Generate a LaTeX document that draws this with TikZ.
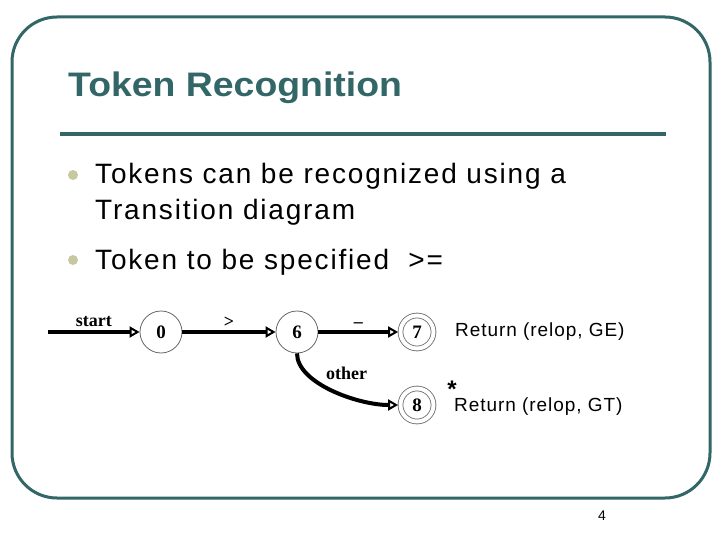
\documentclass[tikz,border=0pt]{standalone}
\usepackage{fontspec}
\setmainfont{Liberation Sans}
\newfontfamily\statefont{Liberation Serif}
\newfontfamily\titlefont[FakeStretch=1.1]{Liberation Sans}
\newfontfamily\bodyfont[LetterSpace=6.5]{Liberation Sans}
\newfontfamily\retfont[LetterSpace=5]{Liberation Sans}
\usetikzlibrary{arrows.meta,positioning}
\definecolor{slidegreen}{HTML}{336666}
\definecolor{bulletc}{HTML}{C8C8A0}
\tikzset{>={Triangle[open,length=10pt,width=11pt,line width=2pt]},
  state/.style={draw=black!60,circle,line width=.8pt,minimum size=42pt,inner sep=0pt,font=\statefont\bfseries\fontsize{19}{19}\selectfont},
  accept/.style={state,minimum size=33pt,double,double distance=4pt,outer sep=2.4pt},
  edge/.style={line width=4pt,->},
  lbl/.style={font=\statefont\bfseries\fontsize{18}{18}\selectfont,inner sep=3pt},
  txt/.style={anchor=base west,inner sep=0pt,font=\bodyfont\fontsize{28}{28}\selectfont},
  ret/.style={font=\retfont\fontsize{19}{19}\selectfont,inner sep=0pt}}

\begin{document}
\begin{tikzpicture}[x=1pt,y=-1pt]
\useasboundingbox (0,0) rectangle (720,540);
\draw[slidegreen,line width=3pt,rounded corners=45pt] (12,17) rectangle (710,498);
\node[anchor=base west,text=slidegreen,font=\titlefont\bfseries\fontsize{34}{34}\selectfont,inner sep=0pt] (title) at (68,97) {Token Recognition};
\draw[slidegreen,line width=4pt] (60,134)--(666,134);
% bullets
\fill[bulletc] (73,175) circle(5pt);\fill[bulletc] (73,260) circle(5pt);
\node[txt] (b1) at (95,184) {Tokens can be recognized using a};
\node[txt] (b1b) at (95,220) {Transition diagram};
\node[txt] (b2) at (95,269) {Token to be specified\ \ >=};
% transition diagram
\node[state] (s0) at (161,332) {0};\node[state] (s6) at (297,332) {6};
\node[accept] (s7) at (417,332) {7};\node[accept] (s8) at (417,405) {8};
\coordinate (in) at (48,332);
\draw[edge] (in) -- node[above,lbl]{start} (s0);
\draw[edge] (s0) -- node[above,lbl]{>} (s6);
\draw[edge] (s6) -- node[above,lbl]{\textendash} (s7);
\draw[edge] (s6.south) .. controls +(0,30) and +(-40,0) .. node[pos=.4,above right,lbl]{other} (s8.west);
\node[ret,right=19pt of s7] (r7) {Return (relop, GE)};
\node[ret,right=18pt of s8,yshift=-2pt] (r8) {Return (relop, GT)};
\node[font=\bfseries\fontsize{24}{24}\selectfont,inner sep=0pt] (ast) at (452,389) {*};
\node[font=\fontsize{14}{14}\selectfont] (pg) at (602,516) {4};
\end{tikzpicture}
\end{document}
